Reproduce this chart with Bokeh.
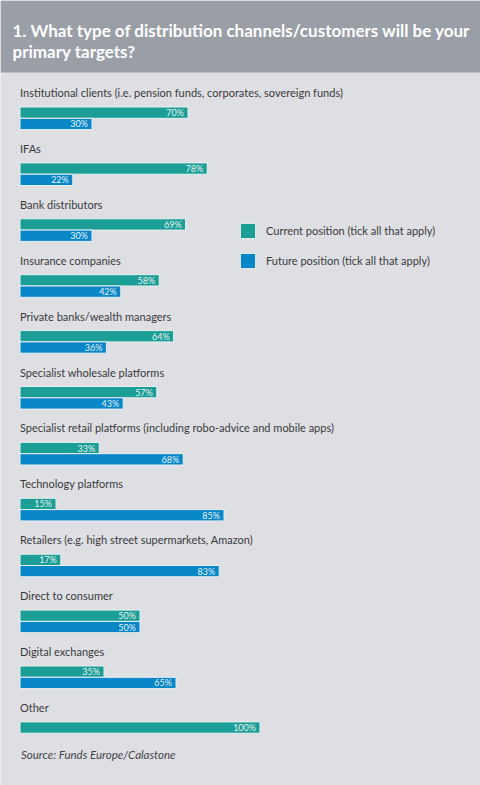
from bokeh.plotting import figure
from bokeh.models import Range1d, ColumnDataSource, Legend, LegendItem
from bokeh.core.properties import value
from bokeh.embed import file_html
from bokeh.resources import INLINE

categories = [
    "Institutional clients (i.e. pension funds, corporates, sovereign funds)",
    "IFAs",
    "Bank distributors",
    "Insurance companies",
    "Private banks/wealth managers",
    "Specialist wholesale platforms",
    "Specialist retail platforms (including robo-advice and mobile apps)",
    "Technology platforms",
    "Retailers (e.g. high street supermarkets, Amazon)",
    "Direct to consumer",
    "Digital exchanges",
    "Other",
]
current = [70, 78, 69, 58, 64, 57, 33, 15, 17, 50, 35, 100]
future = [30, 22, 30, 42, 36, 43, 68, 85, 83, 50, 65, None]
series_names = ["Current position (tick all that apply)", "Future position (tick all that apply)"]
title_lines = ["1. What type of distribution channels/customers will be your", "primary targets?"]
source_text = "Source: Funds Europe/Calastone"

TEAL = "#1a9e96"
BLUE = "#0787c8"
BG = "#dedfe3"
HEADER = "#9a9ea6"
TXT = "#3a3a3c"
FONT = "Lato"

W, H = 480, 785
PX = 2.4          # pixels per percent
X0 = -19.5 / PX   # range start so 0% sits 19.5px from left
Y_TOP, STEP, BAR_H = 106.5, 55.9, 11.3

p = figure(width=W, height=H, output_backend="svg", toolbar_location=None,
           x_range=Range1d(X0, X0 + W / PX), y_range=Range1d(H, 0),
           min_border=0, background_fill_color=BG, border_fill_color=BG,
           outline_line_color=None)
p.axis.visible = False
p.grid.visible = False

# header band
p.quad(left=[X0], right=[X0 + W / PX], top=[0], bottom=[72], fill_color=HEADER, line_color=None)
for i, line in enumerate(title_lines):
    p.text(x=[X0], y=[29.5 + 21.5 * i], text=[line], x_offset=12, text_color="white",
           text_font=value(FONT), text_font_size="17px", text_font_style="bold",
           text_baseline="alphabetic", text_align="left")

tops = [Y_TOP + STEP * i for i in range(len(categories))]
cur_src = ColumnDataSource(dict(y=[t + BAR_H / 2 for t in tops], v=current,
                                lab=[f"{v}%" for v in current]))
fi = [i for i, v in enumerate(future) if v is not None]
fut_src = ColumnDataSource(dict(y=[tops[i] + BAR_H * 1.5 for i in fi], v=[future[i] for i in fi],
                                lab=[f"{future[i]}%" for i in fi]))

r_cur = p.hbar(y="y", left=0, right="v", height=BAR_H, source=cur_src, fill_color=TEAL,
               line_color="#e9eff2", line_width=1)
r_fut = p.hbar(y="y", left=0, right="v", height=BAR_H, source=fut_src, fill_color=BLUE,
               line_color="#e9eff2", line_width=1)
for src in (cur_src, fut_src):
    p.text(x="v", y="y", text="lab", source=src, x_offset=-4, text_align="right",
           text_baseline="middle", text_color="#e6f2f2", text_font=value(FONT),
           text_font_size="9px")

# category labels
p.text(x=[0] * len(categories), y=[t - 14.5 for t in tops], text=categories,
       text_color=TXT, text_font=value(FONT), text_font_size="11px",
       text_baseline="middle", text_align="left")

# source
p.text(x=[0], y=[tops[-1] + 33], text=[source_text], x_offset=1, text_color="#444448",
       text_font=value(FONT), text_font_size="11.5px", text_font_style="italic",
       text_baseline="middle", text_align="left")

legend = Legend(items=[LegendItem(label=series_names[0], renderers=[r_cur]),
                       LegendItem(label=series_names[1], renderers=[r_fut])],
                location=(238, 515), orientation="vertical", padding=0, margin=0,
                spacing=11, glyph_width=19, glyph_height=19, label_height=19,
                label_standoff=9, label_text_font=FONT, label_text_font_size="11px",
                label_text_color=TXT, background_fill_alpha=0, border_line_color=None)
p.add_layout(legend)

open("out.html", "w").write(file_html(p, INLINE))
